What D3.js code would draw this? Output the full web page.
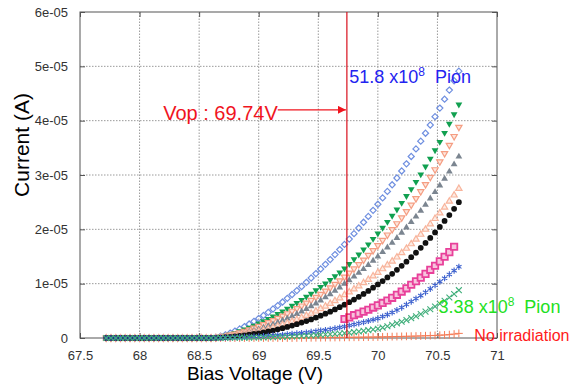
<!DOCTYPE html>
<html>
<head>
<meta charset="utf-8">
<script src="https://cdn.jsdelivr.net/npm/d3@7"></script>
<style>
    body { margin: 0; background: #fff; }
    svg text { font-family: "Liberation Sans", Arial, sans-serif; }
</style>
</head>
<body>
<div id="chart"></div>
<script>
// Bias voltage (V) where the currents start to rise
const voltages = [
    68.60, 68.64, 68.68, 68.72, 68.76, 68.80, 68.84, 68.88, 68.92, 68.96,
    69.00, 69.04, 69.08, 69.12, 69.16, 69.20, 69.24, 69.28, 69.32, 69.36,
    69.40, 69.44, 69.48, 69.52, 69.56, 69.60, 69.64, 69.68, 69.72, 69.76,
    69.80, 69.84, 69.88, 69.92, 69.96, 70.00, 70.04, 70.08, 70.12, 70.16,
    70.20, 70.24, 70.28, 70.32, 70.36, 70.40, 70.44, 70.48, 70.52, 70.56,
    70.60, 70.64, 70.68
];
// below breakdown every curve reads 0 A
const flatVoltages = [
    67.72, 67.76, 67.80, 67.84, 67.88, 67.92, 67.96, 68.00, 68.04, 68.08,
    68.12, 68.16, 68.20, 68.24, 68.28, 68.32, 68.36, 68.40, 68.44, 68.48,
    68.52, 68.56
];
const pinkVoltages = [
    69.72, 69.76, 69.80, 69.84, 69.88, 69.92, 69.96, 70.00, 70.04, 70.08,
    70.12, 70.16, 70.20, 70.24, 70.28, 70.32, 70.36, 70.40, 70.44, 70.48,
    70.52, 70.56, 70.60, 70.64
];

// currents in microampere (1e-06 A)
const blueDiamond = [
    0, .11, .32, .59, .91, 1.27, 1.67, 2.10, 2.57, 3.07,
    3.60, 4.15, 4.73, 5.34, 5.97, 6.62, 7.30, 8.00, 8.73, 9.48,
    10.25, 11.04, 11.86, 12.70, 13.56, 14.44, 15.35, 16.28, 17.23, 18.21,
    19.21, 20.24, 21.30, 22.38, 23.49, 24.62, 25.78, 26.98, 28.20, 29.45,
    30.74, 32.06, 33.41, 34.80, 36.23, 37.69, 39.20, 40.74, 42.32, 43.95,
    45.63, 47.35, 49.11
];
const greenDown = [
    0, .08, .24, .44, .67, .94, 1.24, 1.55, 1.90, 2.27,
    2.66, 3.07, 3.50, 3.95, 4.42, 4.90, 5.40, 5.92, 6.46, 7.02,
    7.59, 8.17, 8.78, 9.40, 10.03, 10.69, 11.36, 12.05, 12.80, 13.62,
    14.48, 15.36, 16.29, 17.23, 18.23, 19.23, 20.29, 21.37, 22.50, 23.65,
    24.87, 26.13, 27.40, 28.74, 30.11, 31.55, 33.01, 34.55, 36.10, 37.75,
    39.42, 41.19, 42.97
];
const salmonDown = [
    0, .07, .19, .35, .55, .76, 1.00, 1.26, 1.54, 1.84,
    2.16, 2.50, 2.87, 3.25, 3.65, 4.06, 4.50, 4.96, 5.43, 5.93,
    6.44, 6.97, 7.52, 8.08, 8.66, 9.27, 9.90, 10.55, 11.23, 11.98,
    12.74, 13.54, 14.38, 15.24, 16.11, 17.04, 17.99, 18.99, 19.99, 21.06,
    22.16, 23.31, 24.49, 25.68, 26.96, 28.27, 29.60, 31.00, 32.46, 33.97,
    35.50, 37.12, 38.80
];
const grayUp = [
    0, .05, .14, .27, .41, .57, .75, .95, 1.16, 1.38,
    1.62, 1.90, 2.19, 2.52, 2.86, 3.22, 3.60, 4.00, 4.43, 4.88,
    5.35, 5.84, 6.36, 6.91, 7.47, 8.06, 8.67, 9.31, 9.99, 10.63,
    11.30, 11.98, 12.69, 13.43, 14.21, 14.99, 15.80, 16.65, 17.51, 18.41,
    19.37, 20.33, 21.32, 22.34, 23.40, 24.50, 25.68, 26.85, 28.06, 29.32,
    30.62, 31.96, 33.39
];
const salmonUp = [
    0, .04, .11, .19, .30, .42, .55, .69, .85, 1.01,
    1.19, 1.40, 1.63, 1.88, 2.14, 2.42, 2.72, 3.04, 3.39, 3.74,
    4.12, 4.52, 4.93, 5.38, 5.84, 6.32, 6.83, 7.36, 7.93, 8.45,
    8.99, 9.55, 10.14, 10.74, 11.39, 12.04, 12.71, 13.41, 14.13, 14.87,
    15.68, 16.48, 17.31, 18.17, 19.06, 19.98, 20.97, 21.96, 22.98, 24.04,
    25.14, 26.28, 27.50
];
const blackDot = [
    0, .03, .08, .14, .22, .30, .40, .50, .62, .74,
    .86, 1.02, 1.20, 1.38, 1.59, 1.80, 2.03, 2.28, 2.54, 2.83,
    3.12, 3.42, 3.76, 4.10, 4.47, 4.85, 5.25, 5.68, 6.12, 6.59,
    7.07, 7.57, 8.12, 8.66, 9.26, 9.85, 10.47, 11.14, 11.82, 12.55,
    13.28, 14.04, 14.87, 15.69, 16.59, 17.49, 18.42, 19.43, 20.44, 21.54,
    22.63, 23.77, 25.00
];
const pinkSquare = [
    3.5, 3.8, 4.2, 4.5, 4.85, 5.2, 5.6, 6.0, 6.45, 6.9,
    7.4, 7.95, 8.55, 9.15, 9.8, 10.45, 11.1, 11.8, 12.55, 13.3,
    14.1, 14.95, 15.8, 16.8
];
const blueStar = [
    0, .02, .04, .07, .1, .13, .16, .2, .23, .27,
    .3, .36, .42, .48, .54, .6, .68, .76, .84, .92,
    1.0, 1.12, 1.24, 1.36, 1.48, 1.6, 1.76, 1.93, 2.1, 2.3,
    2.5, 2.7, 2.9, 3.12, 3.36, 3.6, 3.95, 4.3, 4.7, 5.14,
    5.6, 6.15, 6.7, 7.25, 7.8, 8.4, 9.05, 9.7, 10.35, 11.0,
    11.7, 12.4, 13.1
];
const greenCross = [
    0, .01, .02, .03, .04, .05, .06, .07, .08, .09,
    .1, .12, .14, .16, .18, .21, .24, .28, .32, .36,
    .41, .46, .52, .58, .64, .7, .76, .83, .9, .99,
    1.09, 1.2, 1.32, 1.44, 1.57, 1.7, 1.92, 2.16, 2.42, 2.7,
    3.0, 3.3, 3.65, 4.0, 4.4, 4.85, 5.3, 5.8, 6.3, 6.85,
    7.45, 8.1, 8.8
];
const orangePlus = [
    0, 0, 0, 0, 0, 0, .01, .01, .01, .01,
    .01, .01, .01, .01, .01, .01, .01, .01, .02, .03,
    .04, .05, .06, .07, .08, .09, .1, .11, .12, .13,
    .14, .15, .16, .17, .18, .19, .21, .23, .25, .27,
    .29, .31, .33, .35, .38, .41, .44, .47, .51, .56,
    .62, .72, .85
];

const xTicks = [67.5, 68, 68.5, 69, 69.5, 70, 70.5, 71];
const yTicks = [0, 10, 20, 30, 40, 50, 60];
const vop = 69.74;

const width = 580, height = 387;

const svg = d3.select("#chart")
    .append("svg")
    .attr("width", width)
    .attr("height", height);

const x = d3.scaleLinear().domain([67.5, 71]).range([80, 497]);
const y = d3.scaleLinear().domain([0, 60]).range([338, 12]);

// grid
svg.append("g")
    .selectAll("line")
    .data(xTicks.slice(1, -1))
    .enter().append("line")
    .attr("x1", d => x(d)).attr("x2", d => x(d))
    .attr("y1", y(0)).attr("y2", y(60))
    .attr("stroke", "#9a9a9a")
    .attr("stroke-dasharray", "1.5,1.5");
svg.append("g")
    .selectAll("line")
    .data(yTicks.slice(1, -1))
    .enter().append("line")
    .attr("x1", x(67.5)).attr("x2", x(71))
    .attr("y1", d => y(d)).attr("y2", d => y(d))
    .attr("stroke", "#9a9a9a")
    .attr("stroke-dasharray", "1.5,1.5");

// frame + inner ticks
const fmtY = d => d === 0 ? "0" : (d / 10) + "e-05";
const axisStyle = g => {
    g.select(".domain").remove();
    g.selectAll(".tick line").attr("stroke", "#555");
    g.selectAll(".tick text")
        .attr("fill", "#333")
        .style("font-size", "13px");
};
svg.append("g")
    .attr("transform", `translate(0,${y(0)})`)
    .call(d3.axisBottom(x).tickValues(xTicks).tickSize(-5).tickPadding(13).tickFormat(d3.format("")))
    .call(axisStyle);
svg.append("g")
    .attr("transform", `translate(0,${y(60)})`)
    .call(d3.axisTop(x).tickValues(xTicks).tickSize(-5).tickFormat(""))
    .call(axisStyle);
svg.append("g")
    .attr("transform", `translate(${x(67.5)},0)`)
    .call(d3.axisLeft(y).tickValues(yTicks).tickSize(-5).tickPadding(12).tickFormat(fmtY))
    .call(axisStyle);
svg.append("g")
    .attr("transform", `translate(${x(71)},0)`)
    .call(d3.axisRight(y).tickValues(yTicks).tickSize(-5).tickFormat(""))
    .call(axisStyle);
svg.append("rect")
    .attr("x", x(67.5)).attr("y", y(60))
    .attr("width", x(71) - x(67.5)).attr("height", y(0) - y(60))
    .attr("fill", "none")
    .attr("stroke", "#555");

// series, drawn bottom to top
const series = [
    { volts: voltages, values: orangePlus, flat: false, type: d3.symbolPlus, size: 22, rot: 0, fill: "none", stroke: "#f47a55", sw: 1 },
    { volts: voltages, values: blueDiamond, flat: true, type: d3.symbolDiamond2, size: 24, rot: 0, fill: "none", stroke: "#6f8fe0", sw: 1.2 },
    { volts: voltages, values: greenDown, flat: true, type: d3.symbolTriangle, size: 20, rot: 180, fill: "#11a050", stroke: "none", sw: 1 },
    { volts: voltages, values: salmonDown, flat: true, type: d3.symbolTriangle2, size: 28, rot: 180, fill: "#fde6dc", stroke: "#f59d82", sw: 1.2 },
    { volts: voltages, values: grayUp, flat: true, type: d3.symbolTriangle, size: 20, rot: 0, fill: "#7b8590", stroke: "none", sw: 1 },
    { volts: voltages, values: salmonUp, flat: true, type: d3.symbolTriangle2, size: 28, rot: 0, fill: "#fdece4", stroke: "#f8b49c", sw: 1.2 },
    { volts: voltages, values: blackDot, flat: true, type: d3.symbolCircle, size: 26, rot: 0, fill: "#111", stroke: "none", sw: 1 },
    { volts: pinkVoltages, values: pinkSquare, flat: false, type: d3.symbolSquare2, size: 52, rot: 0, fill: "#f7c4dd", stroke: "#e8409a", sw: 1.8 },
    { volts: voltages, values: blueStar, flat: true, type: d3.symbolAsterisk, size: 26, rot: 0, fill: "none", stroke: "#3a5fcd", sw: 1.1 },
    { volts: voltages, values: greenCross, flat: true, type: d3.symbolTimes, size: 24, rot: 0, fill: "none", stroke: "#3fae7a", sw: 1.1 }
];

series.forEach(s => {
    let pts = s.volts.map((v, i) => ({ v: v, c: s.values[i] }));
    if (s.flat) pts = flatVoltages.map(v => ({ v: v, c: 0 })).concat(pts);
    svg.append("g")
        .selectAll("path")
        .data(pts)
        .enter().append("path")
        .attr("d", d3.symbol().type(s.type).size(s.size))
        .attr("transform", d => `translate(${x(d.v)},${y(d.c)}) rotate(${s.rot})`)
        .attr("fill", s.fill)
        .attr("stroke", s.stroke)
        .attr("stroke-width", s.sw);
});

// operating voltage marker
const red = "#f0141e";
svg.append("line")
    .attr("x1", x(vop)).attr("x2", x(vop))
    .attr("y1", y(60)).attr("y2", y(0))
    .attr("stroke", "#d8101c")
    .attr("stroke-width", 1.2);

svg.append("defs").append("marker")
    .attr("id", "arrow")
    .attr("viewBox", "0 0 10 10")
    .attr("refX", 10).attr("refY", 5)
    .attr("markerWidth", 8).attr("markerHeight", 8)
    .attr("markerUnits", "userSpaceOnUse")
    .attr("orient", "auto")
    .append("path")
    .attr("d", "M0,0 L10,5 L0,10 Z")
    .attr("fill", red);

svg.append("line")
    .attr("x1", x(69.16)).attr("x2", x(vop) - 1)
    .attr("y1", y(42)).attr("y2", y(42))
    .attr("stroke", red)
    .attr("stroke-width", 1.2)
    .attr("marker-end", "url(#arrow)");

svg.append("text")
    .attr("x", x(69.16)).attr("y", y(42) + 10)
    .attr("text-anchor", "end")
    .attr("fill", red)
    .style("font-size", "20px")
    .text("Vop : 69.74V");

// labels for the curve family
function fluenceLabel(xv, yv, txt, color) {
    const t = svg.append("text")
        .attr("x", x(xv)).attr("y", y(yv))
        .attr("fill", color)
        .style("font-size", "18px");
    t.append("tspan").text(txt + " x10");
    t.append("tspan").attr("dy", -7).style("font-size", "12px").text("8");
    t.append("tspan").attr("dy", 7).attr("xml:space", "preserve").text("  Pion");
}
fluenceLabel(69.76, 46.9, "51.8", "#2323f0");
fluenceLabel(70.51, 4.6, "3.38", "#22e022");

svg.append("text")
    .attr("x", x(70.81)).attr("y", y(-0.6))
    .attr("fill", "#ff1a1a")
    .style("font-size", "16px")
    .text("No irradiation");

// axis titles
svg.append("text")
    .attr("transform", "translate(29,145) rotate(-90)")
    .attr("text-anchor", "middle")
    .attr("fill", "#000")
    .style("font-size", "21px")
    .text("Current (A)");

svg.append("text")
    .attr("x", 255).attr("y", 380)
    .attr("text-anchor", "middle")
    .attr("fill", "#000")
    .style("font-size", "19px")
    .text("Bias Voltage (V)");
</script>
</body>
</html>
